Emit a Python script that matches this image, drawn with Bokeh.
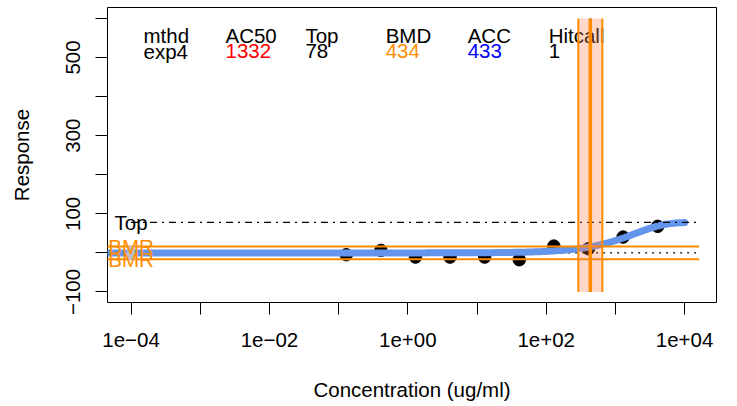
import numpy as np
from bokeh.plotting import figure
from bokeh.models import Range1d, FixedTicker, CustomJSTickFormatter
from bokeh.core.properties import value
from bokeh.embed import file_html
from bokeh.resources import INLINE

# ---- data ----
conc = [0.129, 0.408, 1.29, 4.08, 12.9, 40.8, 129, 408, 1290, 4080]
resp = [-4.6, 6.4, -10.7, -10.7, -10.7, -17.5, 17.4, 10.7, 40.5, 68]

fit_top = 78
fit_ac50 = 1332
bmd = 434
bmdl = 291
bmdu = 647
acc = 433
bmr = 16.3
band_y = [-100, 600]
baseline_conc = [1e-4]
baseline_resp = [0]

header_labels = ["mthd", "AC50", "Top", "BMD", "ACC", "Hitcall"]
header_values = ["exp4", "1332", "78", "434", "433", "1"]
value_colors = ["black", "red", "black", "darkorange", "blue", "black"]

x_tick_values = [1e-4, 1e-3, 1e-2, 1e-1, 1e0, 1e1, 1e2, 1e3, 1e4]
x_tick_labels = ["1e\u221204", "", "1e\u221202", "", "1e+00", "", "1e+02", "", "1e+04"]
y_tick_values = [-100, 0, 100, 200, 300, 400, 500, 600]
y_tick_labels = ["\u2212100", "", "100", "", "300", "", "500", ""]

# ---- layout constants ----
x_log_min, x_log_max = -4.340, 4.461
y_min, y_max = -126.9, 627.9
line_log_extent = [-4.36, 4.21]
top_log_extent = [-4.0, 4.21]
header_log_x = [-3.82, -2.635, -1.48, -0.32, 0.865, 2.035]
header_y = 555.0
values_y = 515.4
FONT = "Liberation Sans"
FS = "20.5px"

p = figure(width=736, height=405, x_axis_type="log",
           x_range=Range1d(10 ** x_log_min, 10 ** x_log_max),
           y_range=Range1d(y_min, y_max),
           output_backend="svg", toolbar_location=None,
           min_border_left=107, min_border_right=20,
           min_border_top=7, min_border_bottom=103,
           x_axis_label="Concentration (ug/ml)", y_axis_label="Response")
p.grid.visible = False
p.outline_line_color = "black"
p.outline_line_width = 1
p.outline_line_alpha = 1.0
p.background_fill_color = "white"
p.border_fill_color = "white"

xa = p.xaxis[0]
xa.ticker = FixedTicker(ticks=x_tick_values)
xa.formatter = CustomJSTickFormatter(args=dict(vals=x_tick_values, labs=x_tick_labels), code="""
    const lv = Math.log10(tick);
    for (let i = 0; i < vals.length; i++) {
        if (Math.abs(Math.log10(vals[i]) - lv) < 1e-6) return labs[i];
    }
    return "";
""")
ya = p.yaxis[0]
ya.ticker = FixedTicker(ticks=y_tick_values)
ya.formatter = CustomJSTickFormatter(args=dict(vals=y_tick_values, labs=y_tick_labels), code="""
    for (let i = 0; i < vals.length; i++) {
        if (Math.abs(vals[i] - tick) < 1e-6) return labs[i];
    }
    return "";
""")
ya.major_label_orientation = "vertical"

for ax in (xa, ya):
    ax.axis_line_color = None
    ax.major_tick_out = 12
    ax.major_tick_in = 0
    ax.major_tick_line_color = "black"
    ax.major_tick_line_width = 1
    ax.minor_tick_line_color = None
    ax.major_label_text_font = FONT
    ax.major_label_text_font_size = FS
    ax.major_label_text_color = "black"
    ax.axis_label_text_font = FONT
    ax.axis_label_text_font_size = FS
    ax.axis_label_text_font_style = "normal"
    ax.axis_label_text_color = "black"
xa.major_label_standoff = 18
xa.axis_label_standoff = 28
ya.major_label_standoff = 15
ya.axis_label_standoff = 31

# data points
p.scatter(conc, resp, size=12.5, color="black", marker="circle")

# dotted baseline (under the curve)
lx = [10 ** v for v in line_log_extent]
p.line(lx, [0, 0], line_color="black", line_width=1.3, line_dash="2 5")

# fitted exp4 curve from the reported parameters
xc = np.logspace(x_log_min - 0.02, 4, 400)
yc = fit_top * (1 - 2 ** (-xc / fit_ac50))
p.line(xc, yc, line_color="#6495ED", line_width=7, line_cap="round")

# horizontal reference lines
p.line(lx, [bmr, bmr], line_color="darkorange", line_width=2)
p.line(lx, [-bmr, -bmr], line_color="darkorange", line_width=2)
tx = [10 ** v for v in top_log_extent]
p.line(tx, [fit_top, fit_top], line_color="black", line_width=1.3, line_dash="7 5 2 5")

# gray baseline marker
p.rect(x=baseline_conc, y=baseline_resp, width=8, height=14,
       width_units="screen", height_units="screen",
       fill_color="#BEBEBE", line_color=None)

# texts
hx = [10 ** v for v in header_log_x]
p.text(x=hx, y=[header_y] * len(hx), text=header_labels, text_font=value(FONT),
       text_font_size=value(FS), text_color="black", text_align="left",
       text_baseline="alphabetic")
p.text(x=hx, y=[values_y] * len(hx), text=header_values, text_font=value(FONT),
       text_font_size=value(FS), text_color=value_colors, text_align="left",
       text_baseline="alphabetic")
p.text(x=baseline_conc, y=[fit_top], text=["Top"], text_font=value(FONT),
       text_font_size=value(FS), text_color="black", text_align="center",
       text_baseline="middle")
p.text(x=baseline_conc * 2, y=[bmr, -bmr], text=["BMR", "BMR"], text_font=value(FONT),
       text_font_size=value(FS), text_color="darkorange", text_align="center",
       text_baseline="middle")

# BMD confidence band and lines
p.quad(left=[bmdl], right=[bmdu], bottom=[band_y[0]], top=[band_y[1]],
       fill_color="coral", fill_alpha=0.3, line_color=None)
p.segment(x0=[bmdl, bmdu], y0=[band_y[0]] * 2, x1=[bmdl, bmdu], y1=[band_y[1]] * 2,
          line_color="darkorange", line_width=2)
p.segment(x0=[acc], y0=[band_y[0]], x1=[acc], y1=[band_y[1]],
          line_color="blue", line_width=2)
p.segment(x0=[bmd], y0=[band_y[0]], x1=[bmd], y1=[band_y[1]],
          line_color="darkorange", line_width=3.5)

open("out.html", "w").write(file_html(p, INLINE))
